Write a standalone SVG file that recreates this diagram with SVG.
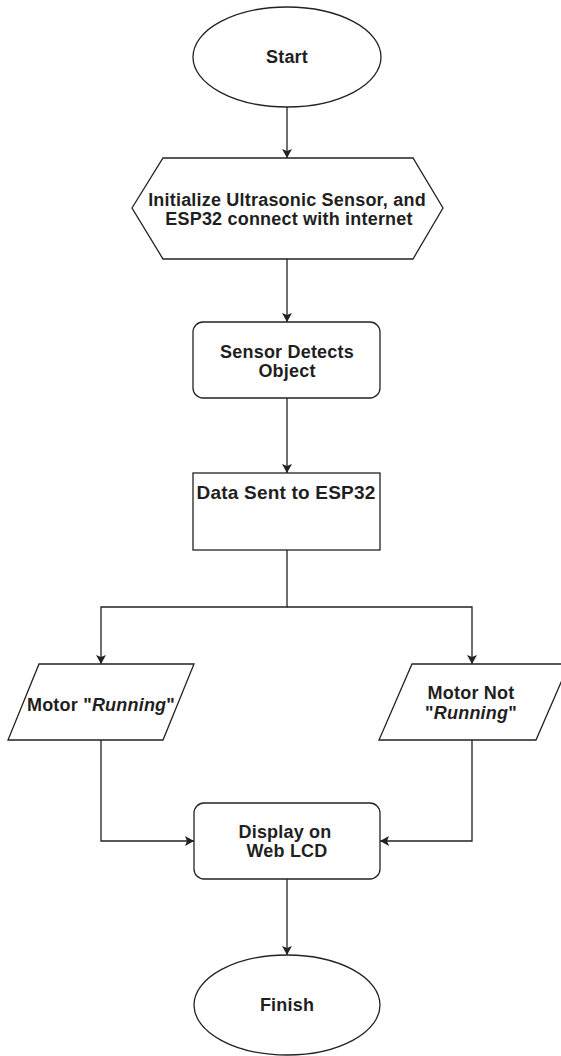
<svg xmlns="http://www.w3.org/2000/svg" width="561" height="1056" viewBox="0 0 561 1056">
  <style>
    .shape { fill: #ffffff; stroke: #222222; stroke-width: 1.3; }
    .edge { fill: none; stroke: #222222; stroke-width: 1.3; }
    .label { font-family: "Liberation Sans", Arial, sans-serif; font-size: 18px; font-weight: bold; fill: #1f1f1f; text-anchor: middle; letter-spacing: 0.2px; }
    .em { font-style: italic; }
  </style>
  <defs>
    <marker id="arrow" viewBox="0 0 9 10" refX="9" refY="5" markerWidth="9" markerHeight="10" markerUnits="userSpaceOnUse" orient="auto">
      <path d="M0,0 L9,5 L0,10 L2,5 Z" fill="#222222"/>
    </marker>
  </defs>
  <rect x="0" y="0" width="561" height="1056" fill="#ffffff"/>

  <!-- connectors -->
  <g id="connectors">
    <path class="edge" d="M287,107 L287,158" marker-end="url(#arrow)"/>
    <path class="edge" d="M287,259 L287,322" marker-end="url(#arrow)"/>
    <path class="edge" d="M287,398 L287,473" marker-end="url(#arrow)"/>
    <path class="edge" d="M287,550 L287,607 L101,607 L101,664" marker-end="url(#arrow)"/>
    <path class="edge" d="M287,607 L472,607 L472,664" marker-end="url(#arrow)"/>
    <path class="edge" d="M101,740 L101,841 L194,841" marker-end="url(#arrow)"/>
    <path class="edge" d="M472,740 L472,841 L380,841" marker-end="url(#arrow)"/>
    <path class="edge" d="M287,879 L287,955" marker-end="url(#arrow)"/>
  </g>

  <g id="start">
    <ellipse class="shape" cx="287" cy="57" rx="94" ry="50"/>
    <text class="label" x="287" y="63">Start</text>
  </g>

  <g id="init">
    <polygon class="shape" points="132,208 163,158 413,158 443,208 413,259 163,259"/>
    <text class="label" x="287" y="206">Initialize Ultrasonic Sensor, and</text>
    <text class="label" x="289" y="225">ESP32 connect with internet</text>
  </g>

  <g id="detect">
    <rect class="shape" x="193" y="322" width="187" height="76" rx="10" ry="10"/>
    <text class="label" x="287" y="358">Sensor Detects</text>
    <text class="label" x="287" y="377">Object</text>
  </g>

  <g id="data-sent">
    <rect class="shape" x="193" y="473" width="187" height="77"/>
    <text class="label" x="286" y="499" style="font-size:19px">Data Sent to ESP32</text>
  </g>

  <g id="motor-running">
    <polygon class="shape" points="39,664 194,664 163,740 8,740"/>
    <text class="label" x="101" y="711">Motor "<tspan class="em">Running</tspan>"</text>
  </g>

  <g id="motor-not-running">
    <polygon class="shape" points="412,664 569,664 536,740 379,740"/>
    <text class="label" x="471" y="699">Motor Not</text>
    <text class="label" x="471" y="719">"<tspan class="em">Running</tspan>"</text>
  </g>

  <g id="display">
    <rect class="shape" x="194" y="803" width="186" height="76" rx="10" ry="10"/>
    <text class="label" x="285" y="838">Display on</text>
    <text class="label" x="287" y="857">Web LCD</text>
  </g>

  <g id="finish">
    <ellipse class="shape" cx="287" cy="1005" rx="93" ry="50"/>
    <text class="label" x="287" y="1011">Finish</text>
  </g>
</svg>
